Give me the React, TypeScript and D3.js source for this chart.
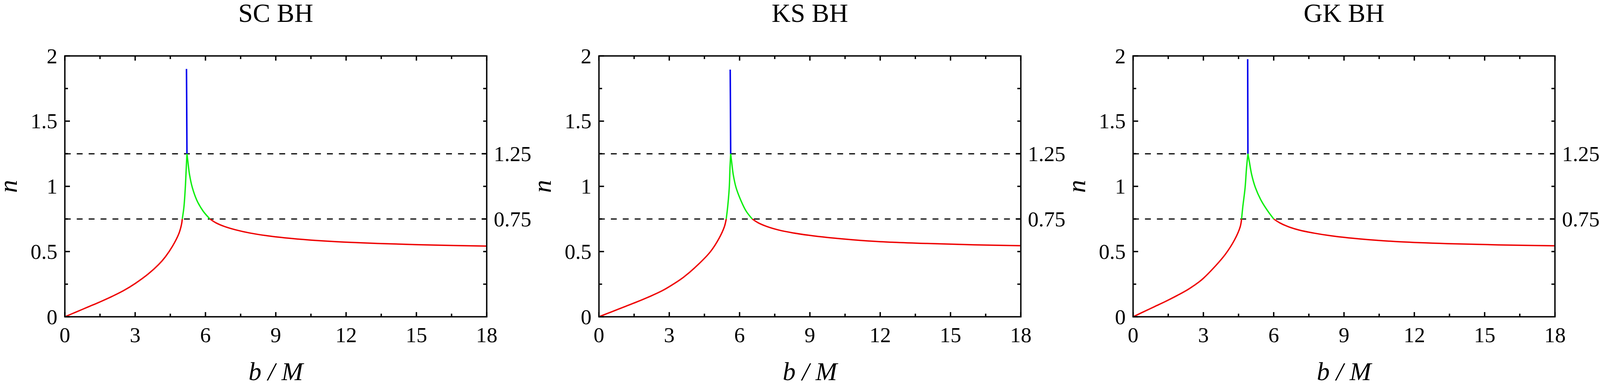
import * as d3 from 'd3'

const W = 4102
const H = 987
const PANEL_W = W / 3
const M = { left: 166, top: 143 }
const PW = 1080
const PH = 667

const FONT = '"Liberation Serif", "Times New Roman", serif'

const TITLES = ['SC BH', 'KS BH', 'GK BH']
const X_MAJOR = [0, 3, 6, 9, 12, 15, 18]
const X_MINOR = [1.5, 4.5, 7.5, 10.5, 13.5, 16.5]
const Y_MAJOR = [0, 0.5, 1, 1.5, 2]
const Y_MINOR = [0.25, 0.75, 1.25, 1.75]
const Y_LABELS = ['0', '0.5', '1', '1.5', '2']
const REF_LEVELS = [1.25, 0.75]
const REF_LABELS = ['1.25', '0.75']
const RIGHT_MINOR = [0.25, 0.5, 1, 1.5, 1.75]

type Pt = [number, number]

// SC BH  (b/M, n)
const scRedIn: Pt[] = [[0, 0], [0.5, 0.038], [1, 0.076], [1.5, 0.114], [2, 0.155], [2.5, 0.2], [3, 0.255], [3.57, 0.33], [4, 0.4], [4.29, 0.46], [4.59, 0.54], [4.87, 0.64], [4.98, 0.71], [5.01, 0.75]]
const scGreenIn: Pt[] = [[5.01, 0.75], [5.08, 0.84], [5.14, 0.99], [5.18, 1.14], [5.21, 1.25]]
const scBlue: Pt[] = [[5.21, 1.25], [5.2, 1.6], [5.19, 1.9]]
const scGreenOut: Pt[] = [[5.21, 1.25], [5.25, 1.19], [5.32, 1.09], [5.44, 0.99], [5.64, 0.89], [5.9, 0.81], [6.19, 0.75]]
const scRedOut: Pt[] = [[6.19, 0.75], [6.45, 0.72], [6.8, 0.693], [7.3, 0.666], [7.9, 0.642], [8.6, 0.622], [9.4, 0.605], [10.5, 0.588], [11.9, 0.573], [13.9, 0.559], [16, 0.549], [18, 0.542]]

// KS BH
const ksRedIn: Pt[] = [[0, 0], [0.54, 0.038], [1.08, 0.076], [1.62, 0.114], [2.16, 0.155], [2.7, 0.2], [3.24, 0.258], [3.62, 0.305], [4.23, 0.4], [4.76, 0.5], [5.12, 0.6], [5.35, 0.69], [5.43, 0.75]]
const ksGreenIn: Pt[] = [[5.43, 0.75], [5.49, 0.84], [5.56, 0.99], [5.59, 1.14], [5.62, 1.25]]
const ksBlue: Pt[] = [[5.62, 1.25], [5.61, 1.6], [5.6, 1.895]]
const ksGreenOut: Pt[] = [[5.62, 1.25], [5.66, 1.19], [5.73, 1.09], [5.85, 0.99], [6.06, 0.89], [6.28, 0.81], [6.54, 0.75]]
const ksRedOut: Pt[] = [[6.54, 0.75], [6.8, 0.72], [7.15, 0.693], [7.65, 0.666], [8.25, 0.644], [8.95, 0.625], [9.75, 0.608], [10.85, 0.59], [12, 0.576], [14, 0.562], [16, 0.552], [18, 0.545]]

// GK BH
const gkRedIn: Pt[] = [[0, 0], [0.47, 0.04], [0.94, 0.08], [1.41, 0.12], [1.88, 0.163], [2.35, 0.21], [2.82, 0.268], [3.0, 0.295], [3.44, 0.375], [3.94, 0.48], [4.33, 0.59], [4.57, 0.69], [4.63, 0.75]]
const gkGreenIn: Pt[] = [[4.63, 0.75], [4.68, 0.84], [4.78, 0.99], [4.84, 1.14], [4.9, 1.25]]
const gkBlue: Pt[] = [[4.9, 1.25], [4.895, 1.6], [4.89, 1.975]]
const gkGreenOut: Pt[] = [[4.9, 1.25], [4.96, 1.19], [5.06, 1.09], [5.22, 0.99], [5.47, 0.89], [5.75, 0.81], [6.0, 0.75]]
const gkRedOut: Pt[] = [[6.0, 0.75], [6.26, 0.72], [6.6, 0.692], [7.1, 0.664], [7.7, 0.642], [8.4, 0.622], [9.2, 0.605], [10.3, 0.588], [11.4, 0.575], [13.4, 0.561], [15.6, 0.551], [18, 0.544]]

const RED = '#ee0000'
const GREEN = '#11ee11'
const BLUE = '#0000ee'

const PANELS = [
  { red: [scRedIn, scRedOut], green: [scGreenIn, scGreenOut], blue: scBlue },
  { red: [ksRedIn, ksRedOut], green: [ksGreenIn, ksGreenOut], blue: ksBlue },
  { red: [gkRedIn, gkRedOut], green: [gkGreenIn, gkGreenOut], blue: gkBlue },
]

function Panel({ idx }: { idx: number }) {
  const p = PANELS[idx]
  const x = d3.scaleLinear().domain([0, 18]).range([0, PW])
  const y = d3.scaleLinear().domain([0, 2]).range([PH, 0])
  const line = d3.line<Pt>()
    .x(d => x(d[0]))
    .y(d => y(d[1]))
    .curve(d3.curveCatmullRom.alpha(0.5))

  const tickStroke = { stroke: '#000', strokeWidth: 3.5 }
  const labelSize = 55

  return (
    <g transform={`translate(${idx * PANEL_W + M.left},${M.top})`} fontFamily={FONT}>
      <text x={PW / 2} y={56 - M.top} textAnchor="middle" fontSize={67}>{TITLES[idx]}</text>

      {/* reference levels */}
      {REF_LEVELS.map(v => (
        <line key={v} x1={0} x2={PW} y1={y(v)} y2={y(v)} stroke="#000" strokeWidth={3} strokeDasharray="15 15.5" />
      ))}

      {/* curves */}
      {p.red.map((s, i) => <path key={'r' + i} d={line(s) || ''} fill="none" stroke={RED} strokeWidth={3.5} />)}
      {p.green.map((s, i) => <path key={'g' + i} d={line(s) || ''} fill="none" stroke={GREEN} strokeWidth={3.5} />)}
      <path d={line(p.blue) || ''} fill="none" stroke={BLUE} strokeWidth={3.8} />

      {/* frame */}
      <rect x={0} y={0} width={PW} height={PH} fill="none" stroke="#000" strokeWidth={3.5} />

      {/* bottom & top ticks */}
      {X_MAJOR.map(v => (
        <g key={'xm' + v}>
          <line x1={x(v)} x2={x(v)} y1={PH} y2={PH - 12} {...tickStroke} />
          <line x1={x(v)} x2={x(v)} y1={0} y2={12} {...tickStroke} />
          <text x={x(v)} y={875 - M.top} textAnchor="middle" fontSize={labelSize}>{v}</text>
        </g>
      ))}
      {X_MINOR.map(v => (
        <g key={'xn' + v}>
          <line x1={x(v)} x2={x(v)} y1={PH} y2={PH - 8} {...tickStroke} />
          <line x1={x(v)} x2={x(v)} y1={0} y2={8} {...tickStroke} />
        </g>
      ))}

      {/* left ticks */}
      {Y_MAJOR.map((v, i) => (
        <g key={'ym' + v}>
          <line x1={0} x2={13} y1={y(v)} y2={y(v)} {...tickStroke} />
          <text x={-19} y={y(v)} dy="0.34em" textAnchor="end" fontSize={labelSize}>{Y_LABELS[i]}</text>
        </g>
      ))}
      {Y_MINOR.map(v => (
        <line key={'yn' + v} x1={0} x2={8} y1={y(v)} y2={y(v)} {...tickStroke} />
      ))}

      {/* right ticks */}
      {REF_LEVELS.map((v, i) => (
        <g key={'rm' + v}>
          <line x1={PW} x2={PW - 13} y1={y(v)} y2={y(v)} {...tickStroke} />
          <text x={PW + 18} y={y(v)} dy="0.34em" textAnchor="start" fontSize={labelSize}>{REF_LABELS[i]}</text>
        </g>
      ))}
      {RIGHT_MINOR.map(v => (
        <line key={'rn' + v} x1={PW} x2={PW - 9} y1={y(v)} y2={y(v)} {...tickStroke} />
      ))}

      {/* axis labels */}
      <text x={PW / 2} y={972 - M.top} textAnchor="middle" fontSize={66} fontStyle="italic">b / M</text>
      <text transform={`translate(${-123},${PH / 2}) rotate(-90)`} textAnchor="middle" fontSize={66} fontStyle="italic">n</text>
    </g>
  )
}

export default function App() {
  return (
    <svg width={W} height={H} style={{ position: 'absolute', left: 0, top: 0, background: '#fff' }}>
      <rect width={W} height={H} fill="#fff" />
      {[0, 1, 2].map(i => <Panel key={i} idx={i} />)}
    </svg>
  )
}
